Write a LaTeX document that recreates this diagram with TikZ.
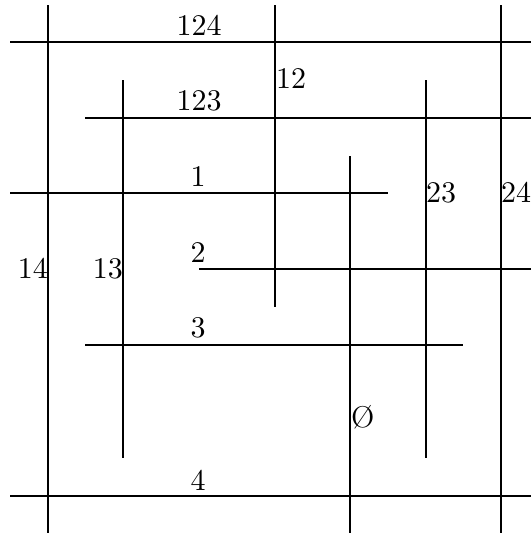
\documentclass[tikz,border=0pt]{standalone}
\font\biglbl=cmr10 at 30pt
\begin{document}
\begin{tikzpicture}[x=1pt,y=-1pt,
  ln/.style={line width=1.2pt,black},
  lbl/.style={inner sep=0pt,font=\biglbl}]
\useasboundingbox (0,0) rectangle (531,533);
% vertical lines
\draw[ln] (48,5) -- (48,533);
\draw[ln] (123,80) -- (123,458);
\draw[ln] (275,5) -- (275,307);
\draw[ln] (350,156) -- (350,533);
\draw[ln] (426,80) -- (426,458);
\draw[ln] (501,5) -- (501,533);
% horizontal lines
\draw[ln] (10,42) -- (531,42);
\draw[ln] (85,118) -- (531,118);
\draw[ln] (10,193) -- (388,193);
\draw[ln] (199,269) -- (531,269);
\draw[ln] (85,345) -- (463,345);
\draw[ln] (10,496) -- (531,496);
% labels
\node[lbl,anchor=base] (l124) at (199,35) {124};
\node[lbl,anchor=base] (l123) at (199,110) {123};
\node[lbl,anchor=base] (l1) at (198,186) {1};
\node[lbl,anchor=base] (l2) at (198,262) {2};
\node[lbl,anchor=base] (l3) at (198,337) {3};
\node[lbl,anchor=base] (l4) at (198,490) {4};
\node[lbl,anchor=base west] (l12) at (276,88) {12};
\node[lbl,anchor=base west] (l23) at (426,202) {23};
\node[lbl,anchor=base west] (l24) at (501,202) {24};
\node[lbl,anchor=base east] (l14) at (48,278) {14};
\node[lbl,anchor=base east] (l13) at (123,278) {13};
\node[lbl,anchor=base west] (lempty) at (351,427) {\char"1F};
\end{tikzpicture}
\end{document}
